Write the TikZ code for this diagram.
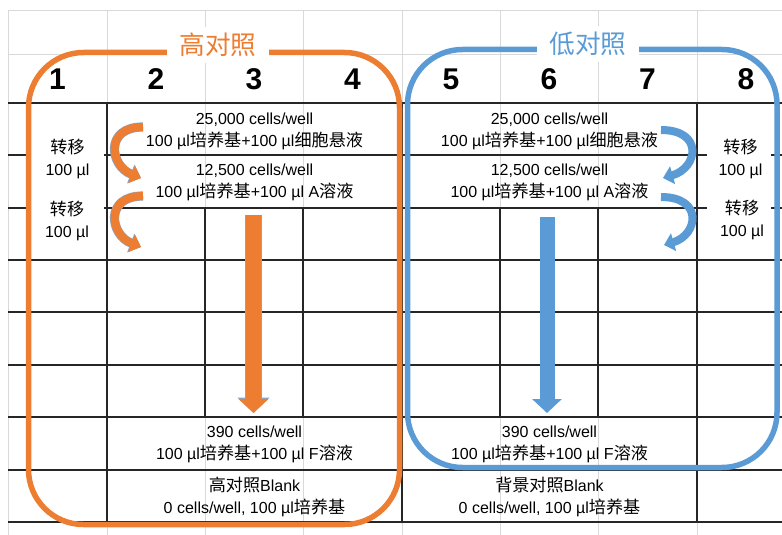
\documentclass[tikz,border=0pt]{standalone}
\usepackage{fontspec}
\setmainfont{Liberation Sans}
\newfontfamily\cjk[Scale=1.07]{Noto Sans CJK SC}
\usetikzlibrary{arrows.meta}
\definecolor{hiorange}{HTML}{ED7D31}
\definecolor{loblue}{HTML}{5B9BD5}
\definecolor{gridgray}{HTML}{D9D9D9}
\definecolor{cellline}{HTML}{262626}
\definecolor{arrline}{HTML}{8FA3BF}
\newcommand{\zh}[1]{{\cjk #1}}

\tikzset{
    cell/.style={align=center, inner sep=1pt, font=\fontsize{16}{22}\selectfont},
    colnum/.style={font=\fontsize{30}{30}\selectfont\bfseries},
    grouptitle/.style={fill=white, inner xsep=12pt, minimum height=36pt, font=\fontsize{24}{24}\selectfont\cjk},
    groupbox/.style={line width=5.5pt, rounded corners=55pt},
    bigarrow/.style={line width=15pt, -{Triangle[length=14pt,width=29pt]}},
    edged/.style={preaction={draw=arrline, line width=16.5pt, -{Triangle[length=15.5pt,width=31.5pt]}}},
    bentarrow/.style={line width=8pt, -{Triangle[length=10pt,width=18pt]}},
    bentedged/.style={preaction={draw=arrline, line width=9.2pt, -{Triangle[length=11pt,width=19.5pt]}}},
    tableline/.style={cellline, line width=1.2pt}
}

\begin{document}
\begin{tikzpicture}[x=1pt, y=-1pt]
            \useasboundingbox[fill=white] (0,0) rectangle (782,535);

            % Sheet grid
            \foreach \x in {8,107,205,303,402,500,598,697}
                \draw[gridgray] (\x,10) -- (\x,535);
            \foreach \y in {10,54}
                \draw[gridgray] (8,\y) -- (782,\y);

            % Plate cells
            \foreach \y in {103,155,208,260,312,365,417,470,522}
                \draw[tableline] (8,\y) -- (782,\y);
            \foreach \x in {107,402,697}
                \draw[tableline] (\x,103) -- (\x,522);
            \foreach \x in {205,303,500,598}
                \draw[tableline] (\x,208) -- (\x,417);

            % Label patches over the lines
            \fill[white] (29,110) rectangle (104,254);
            \fill[white] (707,110) rectangle (771,254);

            % Group frames
            \draw[groupbox, hiorange] (28.5,52.5) rectangle (399.5,524.5);
            \draw[groupbox, loblue] (407.5,49.5) rectangle (777,467.5);
            \node[grouptitle, text=hiorange] (hiTitle) at (218,45) {高对照};
            \node[grouptitle, text=loblue] (loTitle) at (588,44) {低对照};

            % Column numbers
            \foreach \n/\x in {1/57.5,2/156,3/254,4/352.5,5/451,6/549,7/647.5,8/746}
                \node[colnum] (col\n) at (\x,79) {\n};

            % High control cells
            \node[cell] (hiStart) at (254.5,131) {25,000 cells/well\\100 µl\zh{培养基}+100 µl\zh{细胞悬液}};
            \node[cell] (hiHalf) at (254.5,182.5) {12,500 cells/well\\100 µl\zh{培养基}+100 µl A\zh{溶液}};
            \node[cell] (hiLast) at (254.5,444) {390 cells/well\\100 µl\zh{培养基}+100 µl F\zh{溶液}};
            \node[cell] (hiBlank) at (254.5,496.5) {\zh{高对照}Blank\\0 cells/well, 100 µl\zh{培养基}};
            \node[cell] (hiMove1) at (67.5,158.5) {\zh{转移}\\100 µl};
            \node[cell] (hiMove2) at (67,221) {\zh{转移}\\100 µl};

            % Low control cells
            \node[cell] (loStart) at (549.5,131) {25,000 cells/well\\100 µl\zh{培养基}+100 µl\zh{细胞悬液}};
            \node[cell] (loHalf) at (549.5,182.5) {12,500 cells/well\\100 µl\zh{培养基}+100 µl A\zh{溶液}};
            \node[cell] (loLast) at (549.5,444) {390 cells/well\\100 µl\zh{培养基}+100 µl F\zh{溶液}};
            \node[cell] (loBlank) at (549.5,496.5) {\zh{背景对照}Blank\\0 cells/well, 100 µl\zh{培养基}};
            \node[cell] (loMove1) at (740.5,158.5) {\zh{转移}\\100 µl};
            \node[cell] (loMove2) at (742,219.5) {\zh{转移}\\100 µl};

            % Transfer arrows
            \coordinate (hiBend1s) at (143,127);
            \coordinate (hiBend1e) at (141,178);
            \coordinate (hiBend2s) at (143,196);
            \coordinate (hiBend2e) at (141,247);
            \coordinate (loBend1s) at (661,130);
            \coordinate (loBend1e) at (663,178);
            \coordinate (loBend2s) at (661,197);
            \coordinate (loBend2e) at (664,245);
            \draw[bentarrow, bentedged, hiorange] (hiBend1s) .. controls (104,127) and (110,166) .. (hiBend1e);
            \draw[bentarrow, bentedged, hiorange] (hiBend2s) .. controls (104,196) and (110,235) .. (hiBend2e);
            \draw[bentarrow, loblue] (loBend1s) .. controls (704,130) and (698,168) .. (loBend1e);
            \draw[bentarrow, loblue] (loBend2s) .. controls (704,197) and (698,235) .. (loBend2e);

            % Dilution arrows
            \coordinate (hiTop) at (253.5,215);
            \coordinate (hiTip) at (253.5,413);
            \coordinate (loTop) at (547,217);
            \coordinate (loTip) at (547,413);
            \draw[bigarrow, edged, hiorange] (hiTop) -- (hiTip);
            \draw[bigarrow, loblue] (loTop) -- (loTip);
        \end{tikzpicture}
\end{document}
